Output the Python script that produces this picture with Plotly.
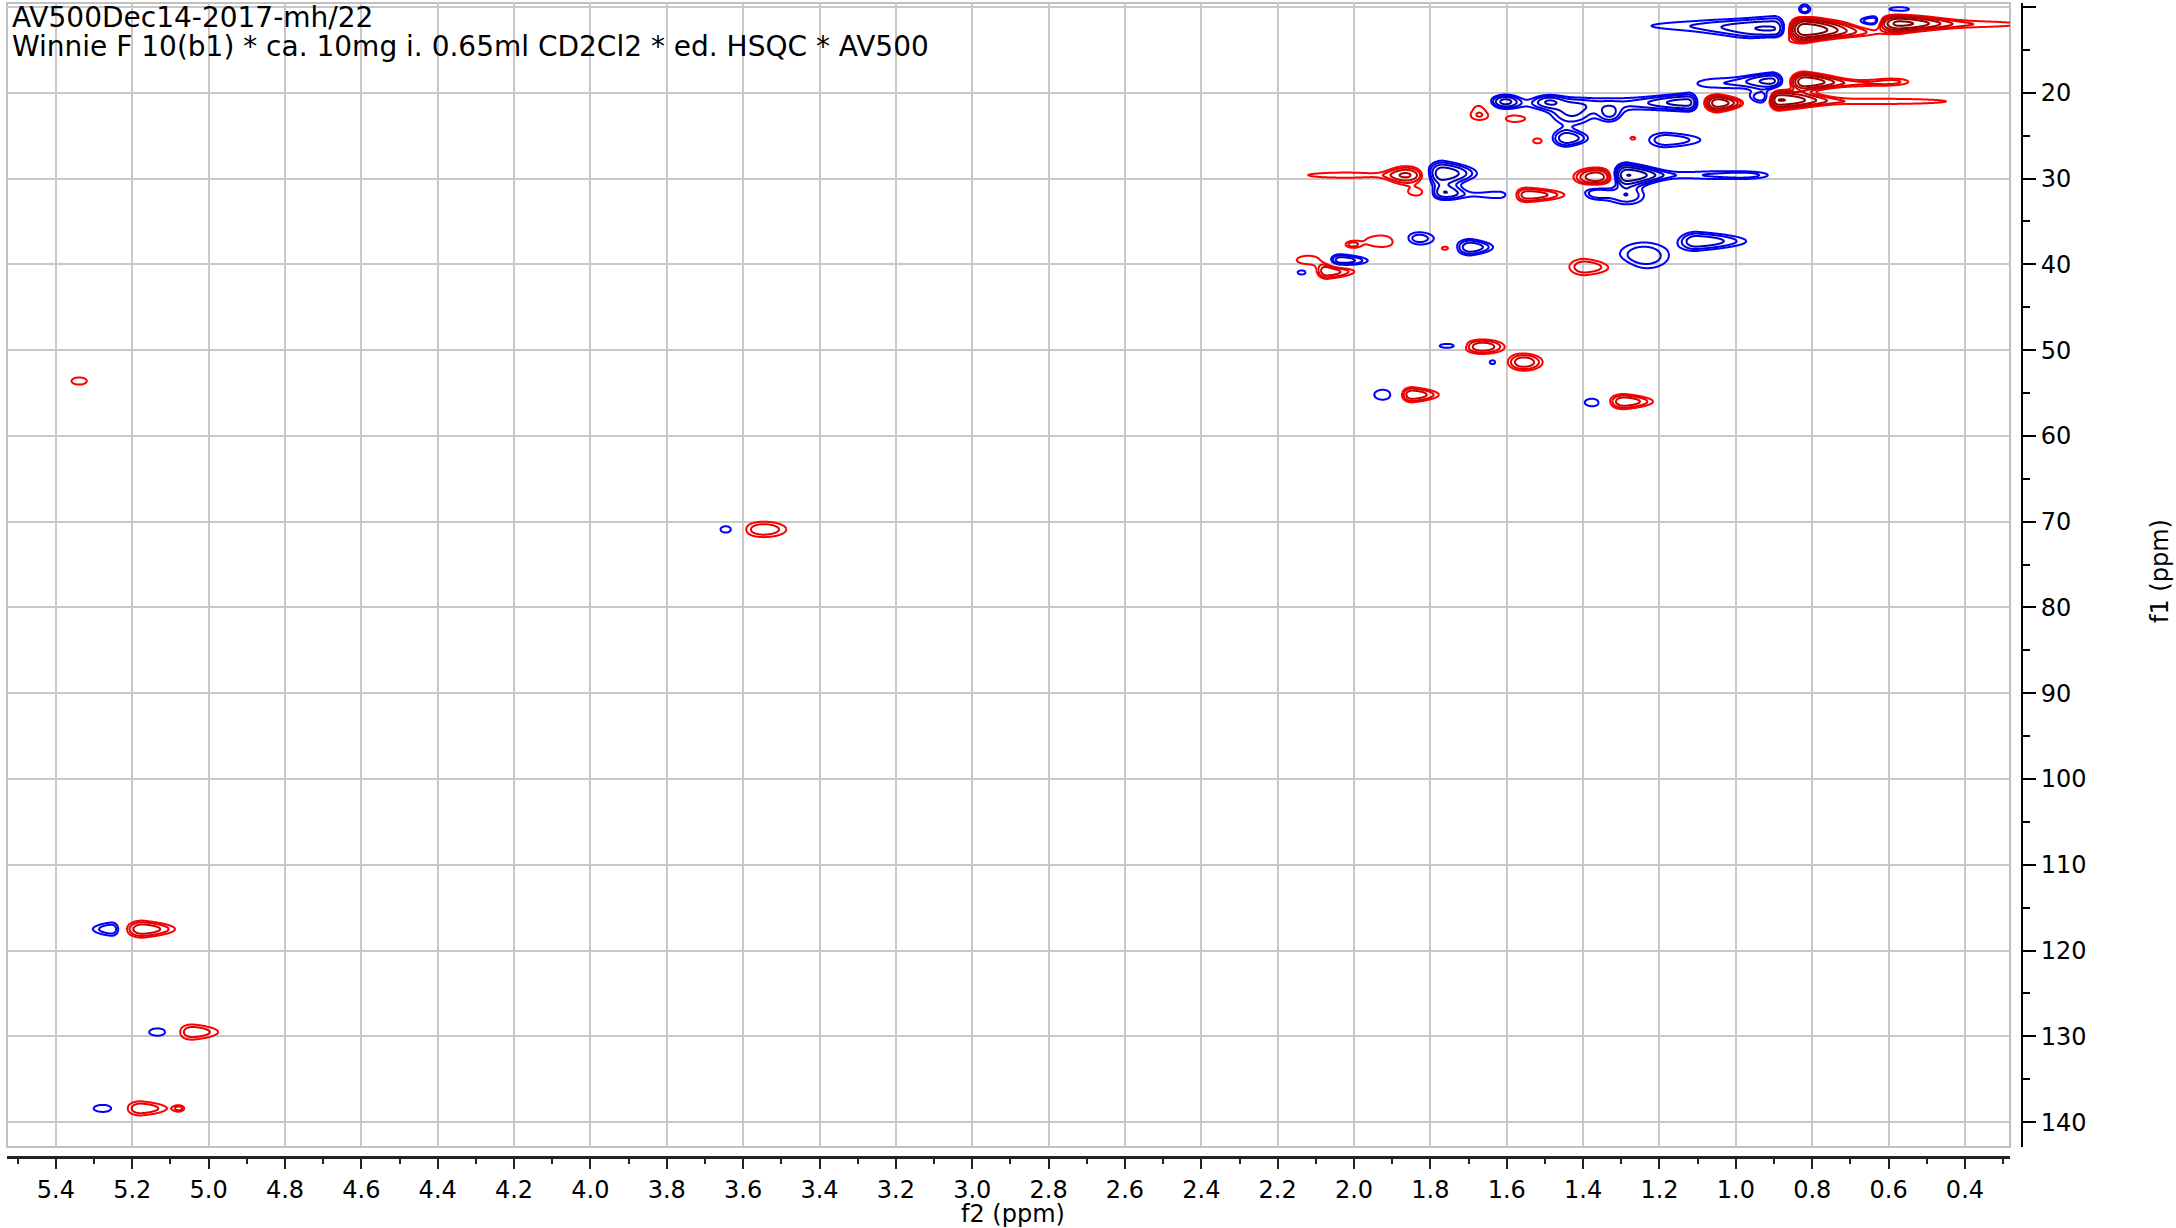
import numpy as np
import plotly.graph_objects as go

# ---------------- data: cross peaks of the edited HSQC (f2 = 1H, f1 = 13C) ----------------
# signed contour-level count: + = positive (red), - = negative (blue)
peak_f2 = [0.820, 0.700, 0.573, 0.420, 0.639, 0.820, 0.573, 0.900, 1.070, 0.898,
           0.820, 0.690, 0.586, 0.887, 0.620, 0.905, 1.040, 0.934, 1.047, 1.125,
           1.604, 1.490, 1.430, 1.330, 1.300, 1.672, 1.672, 1.580, 1.442, 1.183,
           1.519, 1.269, 1.863, 2.020, 1.768, 1.764, 1.620, 1.366, 1.285, 1.080,
           0.964, 1.830, 1.548, 1.366, 1.285, 1.925, 2.005, 1.834, 1.695, 1.761,
           2.036, 2.071, 2.120, 2.137, 1.395, 1.241, 1.103, 1.665, 1.753, 1.556,
           1.637, 1.848, 1.925, 1.293, 1.373,
           5.339, 3.547, 3.642, 5.174, 5.253, 5.043, 5.130, 5.178, 5.276, 5.077]
peak_f1 = [12.6, 13.0, 11.9, 12.0, 11.7, 10.3, 10.3, 12.6, 12.2, 14.0,
           18.7, 18.9, 18.7, 20.8, 21.0, 18.6, 18.9, 20.6, 21.2, 21.1,
           21.0, 21.0, 22.5, 22.5, 21.3, 21.5, 22.7, 23.0, 25.3, 25.5,
           25.6, 25.3, 29.6, 29.6, 29.4, 31.6, 31.9, 29.8, 29.6, 29.6,
           29.6, 31.6, 31.9, 31.7, 32.0, 37.3, 37.7, 37.0, 38.0, 38.1,
           39.55, 40.8, 39.5, 40.9, 40.3, 39.0, 37.3, 49.6, 49.5, 51.4,
           51.4, 55.2, 55.2, 56.0, 56.1,
           53.6, 70.9, 70.9, 117.5, 117.5, 129.5, 129.5, 138.4, 138.4, 138.4]
peak_levels = [6, 1, 5, 1, -3, -2, -1, -3, -1, 1,
               5, 1, 1, 5, 1, -3, -1, -2, 5, -3,
               -3, -2, -2, -2, -1, 1, 1, 1, -3, -2,
               1, 1, 3, 1, -4, -3, -1, 4, -5, -1,
               -1, 1, 3, -2, -2, 1, 1, -2, -3, 1,
               -3, 3, 1, -1, 2, -2, -3, 3, -1, 3,
               -1, 3, -1, 3, -1,
               1, 2, -1, 3, -2, 2, -1, 2, -1, 1]
# outer-contour half extents (ppm): towards higher f2, towards lower f2, along f1
ext_hi = [0.045, 0.06, 0.055, 0.16, 0.045, 0.015, 0.03, 0.13, 0.15, 0.03,
          0.040, 0.06, 0.033, 0.028, 0.15, 0.07, 0.06, 0.03, 0.041, 0.10,
          0.035, 0.03, 0.05, 0.025, 0.22, 0.02, 0.02, 0.022, 0.038, 0.044,
          0.012, 0.008, 0.05, 0.10, 0.044, 0.04, 0.06, 0.06, 0.04, 0.10,
          0.04, 0.026, 0.037, 0.034, 0.044, 0.045, 0.012, 0.037, 0.037, 0.012,
          0.032, 0.026, 0.03, 0.012, 0.041, 0.065, 0.044, 0.048, 0.023, 0.041,
          0.008, 0.03, 0.022, 0.044, 0.023,
          0.02, 0.05, 0.019, 0.042, 0.05, 0.04, 0.026, 0.038, 0.025, 0.009]
ext_lo = [0.13, 0.06, 0.13, 0.16, 0.02, 0.015, 0.03, 0.03, 0.08, 0.03,
          0.10, 0.05, 0.033, 0.13, 0.17, 0.025, 0.08, 0.022, 0.069, 0.022,
          0.035, 0.03, 0.05, 0.025, 0.12, 0.02, 0.02, 0.03, 0.054, 0.09,
          0.012, 0.008, 0.047, 0.08, 0.09, 0.05, 0.03, 0.05, 0.10, 0.06,
          0.04, 0.026, 0.10, 0.034, 0.044, 0.04, 0.012, 0.044, 0.059, 0.012,
          0.073, 0.073, 0.03, 0.012, 0.076, 0.065, 0.13, 0.059, 0.023, 0.05,
          0.008, 0.07, 0.022, 0.076, 0.023,
          0.02, 0.06, 0.019, 0.086, 0.02, 0.068, 0.026, 0.068, 0.025, 0.009]
ext_f1 = [1.6, 0.35, 1.15, 0.35, 0.7, 0.6, 0.3, 1.5, 0.55, 0.4,
          1.2, 0.3, 0.3, 1.3, 0.3, 0.95, 0.55, 0.7, 1.15, 0.95,
          0.75, 0.6, 1.2, 0.8, 0.6, 0.45, 0.45, 0.4, 1.0, 0.85,
          0.3, 0.2, 1.05, 0.3, 1.5, 0.9, 0.4, 1.1, 1.5, 0.4,
          0.3, 0.45, 0.87, 0.68, 1.0, 0.68, 0.25, 0.8, 0.97, 0.25,
          0.78, 0.9, 0.5, 0.3, 0.97, 1.55, 1.1, 0.85, 0.25, 1.0,
          0.25, 0.9, 0.58, 0.9, 0.48,
          0.42, 0.9, 0.47, 1.0, 0.8, 0.9, 0.47, 0.83, 0.42, 0.25]

title_lines = ["AV500Dec14-2017-mh/22",
               "Winnie F 10(b1) * ca. 10mg i. 0.65ml CD2Cl2 * ed. HSQC * AV500"]
x_title = "f2 (ppm)"
y_title = "f1 (ppm)"

# ---------------- contour field built from the peak table ----------------
LEVEL_BASE = 1.38
LEVEL_STEP = 1.45
N_LEVELS = 7


def build_region(idx, x_lim, y_lim):
    xs = [np.arange(x_lim[0], x_lim[1], 0.04)]
    ys = [np.arange(y_lim[0], y_lim[1], 0.8)]
    for i in idx:
        xs.append(np.arange(peak_f2[i] - 1.7 * ext_lo[i] - 0.012,
                            peak_f2[i] + 1.7 * ext_hi[i] + 0.012, 0.0025))
        ys.append(np.arange(peak_f1[i] - 1.7 * ext_f1[i] - 0.15,
                            peak_f1[i] + 1.7 * ext_f1[i] + 0.15, 0.06))
    x = np.unique(np.round(np.concatenate(xs), 4))
    y = np.unique(np.round(np.concatenate(ys), 3))
    X, Y = np.meshgrid(x, y)
    F = np.zeros_like(X)
    for i in idx:
        n = peak_levels[i]
        amp = LEVEL_BASE * LEVEL_STEP ** (abs(n) - 1)
        r_out = np.sqrt(2 * np.log(amp))
        s_hi = ext_hi[i] / r_out
        s_lo = ext_lo[i] / r_out
        s_y = ext_f1[i] / r_out
        dx = X - peak_f2[i]
        dy = Y - peak_f1[i]
        sig = np.where(dx > 0, s_hi, s_lo)
        u = np.abs(dx) / sig
        tail = np.zeros_like(u)
        if s_lo > 1.4 * s_hi:
            tail = np.where(dx < 0, 1.0, 0.0)
        elif s_hi > 1.4 * s_lo:
            tail = np.where(dx > 0, 1.0, 0.0)
        r2 = u ** 2 + (dy / s_y) ** 2 * (1 + 0.5 * u * tail)
        F += np.sign(n) * amp * np.exp(-0.5 * r2)
    return x, y, F


step = np.log(LEVEL_STEP)
fig = go.Figure()

groups = [
    ([i for i in range(len(peak_f2)) if peak_f2[i] < 3.0], (0.2, 2.3), (8.8, 58.5)),
    ([i for i in range(len(peak_f2)) if peak_f2[i] >= 3.0], (3.3, 5.6), (51.0, 141.0)),
]
for idx, xl, yl in groups:
    x, y, F = build_region(idx, xl, yl)
    for sgn, scale in ((1, [[0, "#ff0000"], [1, "#7a0000"]]),
                       (-1, [[0, "#0000ff"], [1, "#00006e"]])):
        z = np.log(np.maximum(sgn * F, 0.05)).astype(np.float32)
        fig.add_trace(go.Contour(
            x=x, y=y, z=z,
            contours=dict(start=0.0, end=step * (N_LEVELS - 1), size=step,
                          coloring="lines", showlabels=False),
            colorscale=scale, zmin=0.0, zmax=step * 5,
            line=dict(width=2, smoothing=1),
            showscale=False, hoverinfo="skip",
        ))

# ---------------- layout ----------------
W, H = 2176, 1228
ML, MR, MT, MB = 7, 150, 3, 68
PW, PH = W - ML - MR, H - MT - MB


def px_x(p):
    return (p - ML) / PW


def px_y(p):
    return (H - MB - p) / PH


FONT = "DejaVu Sans"
fig.update_layout(
    width=W, height=H,
    margin=dict(l=ML, r=MR, t=MT, b=MB),
    paper_bgcolor="white", plot_bgcolor="white",
    showlegend=False,
    font=dict(family=FONT, size=24, color="black"),
    xaxis=dict(
        range=[5.528, 0.282], domain=[0, px_x(2010)],
        anchor="free", position=px_y(1157),
        showgrid=True, gridcolor="#c8c8c8", gridwidth=2, zeroline=False,
        showline=True, linecolor="#222222", linewidth=3,
        ticks="outside", ticklen=10, tickwidth=2, tickcolor="#222222",
        dtick=0.2, tick0=0, tickformat=".1f",
        tickfont=dict(family=FONT, size=24),
        minor=dict(dtick=0.1, ticks="outside", ticklen=5, tickwidth=2,
                   tickcolor="#222222", showgrid=False),
    ),
    yaxis=dict(
        range=[142.9, 9.53], domain=[px_y(1147), 1],
        anchor="free", position=px_x(2022), side="right",
        showgrid=True, gridcolor="#c8c8c8", gridwidth=2, zeroline=False,
        showline=True, linecolor="black", linewidth=2,
        ticks="outside", ticklen=13, tickwidth=2, tickcolor="black",
        dtick=10, tick0=0,
        tickfont=dict(family=FONT, size=24),
        minor=dict(dtick=5, ticks="outside", ticklen=7, tickwidth=2,
                   tickcolor="black", showgrid=False),
    ),
    shapes=[dict(type="rect", xref="x domain", yref="y domain",
                 x0=0, x1=1, y0=0, y1=1,
                 line=dict(color="#c0c0c0", width=2), layer="below")],
    annotations=[
        dict(text=title_lines[0], xref="paper", yref="paper",
             x=px_x(10), y=px_y(17), xanchor="left", yanchor="middle",
             showarrow=False, font=dict(family=FONT, size=28)),
        dict(text=title_lines[1], xref="paper", yref="paper",
             x=px_x(10), y=px_y(46), xanchor="left", yanchor="middle",
             showarrow=False, font=dict(family=FONT, size=28)),
        dict(text=x_title, xref="paper", yref="paper",
             x=px_x(1013), y=px_y(1214), xanchor="center", yanchor="middle",
             showarrow=False, font=dict(family=FONT, size=24)),
        dict(text=y_title, xref="paper", yref="paper",
             x=px_x(2160), y=px_y(571), xanchor="center", yanchor="middle",
             textangle=-90, showarrow=False, font=dict(family=FONT, size=24)),
    ],
)

fig.write_html("out.html", config={"displayModeBar": False},
               post_script="document.body.style.margin='0px';document.body.style.overflow='hidden';")
